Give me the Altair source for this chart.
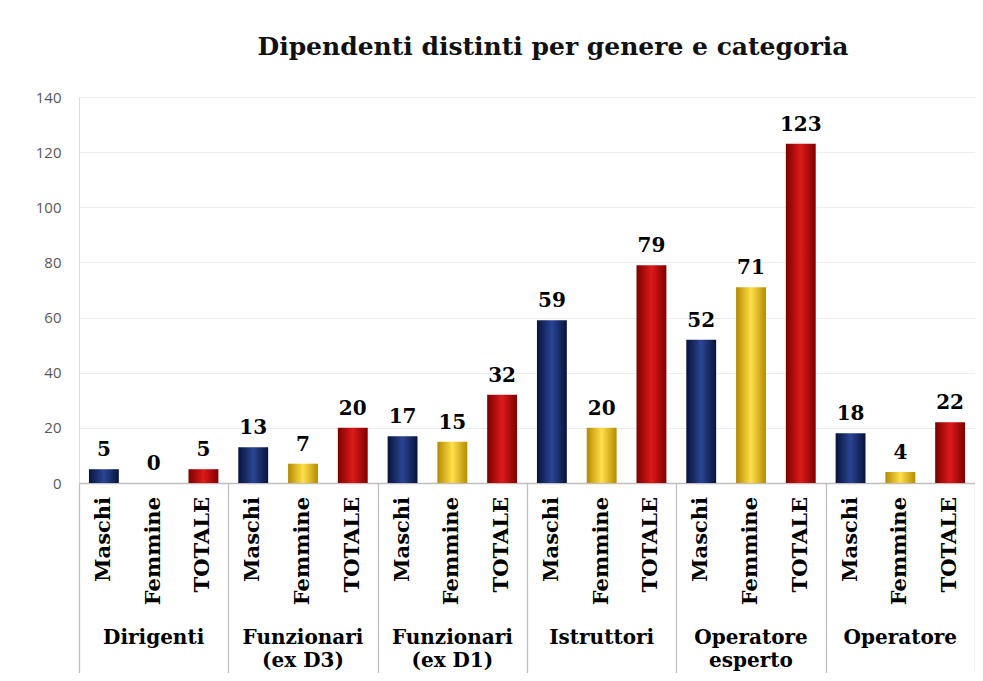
import altair as alt
import pandas as pd

categories = ["Dirigenti", "Funzionari\n(ex D3)", "Funzionari\n(ex D1)",
              "Istruttori", "Operatore\nesperto", "Operatore"]
genders = ["Maschi", "Femmine", "TOTALE"]
maschi = [5, 13, 17, 59, 52, 18]
femmine = [0, 7, 15, 20, 71, 4]
totale = [5, 20, 32, 79, 123, 22]
y_ticks = [0, 20, 40, 60, 80, 100, 120, 140]

rows = []
for i, c in enumerate(categories):
    for g, vals in zip(genders, [maschi, femmine, totale]):
        rows.append({"cat": c, "gender": g, "value": vals[i]})
df = pd.DataFrame(rows)

W, H = 896, 386
SERIF = "DejaVu Serif"

xenc = alt.X("cat:N", sort=categories,
             scale=alt.Scale(domain=categories, paddingInner=0, paddingOuter=0),
             axis=alt.Axis(title=None, labels=False, tickBand="extent",
                           tickSize=190, tickColor="#bfbfbf", tickWidth=1.3,
                           domainColor="#bfbfbf", domainWidth=1.3, grid=False))
xoff = alt.XOffset("gender:N", sort=genders,
                   scale=alt.Scale(domain=genders, paddingInner=0.4, paddingOuter=0.2))
yenc = alt.Y("value:Q", scale=alt.Scale(domain=[0, 140]),
             axis=alt.Axis(title=None, values=y_ticks, domain=False, ticks=False,
                           labelFont="Open Sans", labelFontSize=15,
                           labelColor="#595959", labelPadding=18,
                           gridColor="#eeeeee", gridWidth=1))

base = alt.Chart(df)

grads = {
    "Maschi": ["#07133a", "#2a4594", "#07133a"],
    "Femmine": ["#b58a00", "#ffe04a", "#b58a00"],
    "TOTALE": ["#7d0000", "#dd1a1a", "#7d0000"],
}

layers = []
for g in genders:
    c0, c1, c2 = grads[g]
    layers.append(
        base.transform_filter(alt.datum.gender == g).mark_bar(
            fill=alt.Gradient(gradient="linear", x1=0, x2=1, y1=0, y2=0,
                              stops=[alt.GradientStop(offset=0, color=c0),
                                     alt.GradientStop(offset=0.5, color=c1),
                                     alt.GradientStop(offset=1, color=c2)])
        ).encode(x=xenc, xOffset=xoff, y=yenc)
    )

values = base.mark_text(font=SERIF, fontWeight="bold", fontSize=20, color="#000000",
                        baseline="bottom", dy=-9).encode(
    x=xenc, xOffset=xoff, y=yenc, text="value:Q")

sublabels = base.mark_text(font=SERIF, fontWeight="bold", fontSize=21, color="#000000",
                           angle=270, align="right", baseline="middle").encode(
    x=xenc, xOffset=xoff, y=alt.value(H + 14), text="gender:N")

catlabels = base.transform_filter(alt.datum.gender == "Femmine").mark_text(
    font=SERIF, fontWeight="bold", fontSize=20, color="#000000",
    baseline="top", lineBreak="\n", lineHeight=23).encode(
    x=xenc, y=alt.value(H + 145), text="cat:N")

chart = alt.layer(*layers, values, sublabels, catlabels).properties(
    width=W, height=H,
    title=alt.TitleParams("Dipendenti distinti per genere e categoria",
                          font=SERIF, fontWeight="bold", fontSize=25,
                          color="#111111", anchor="middle", offset=30, dx=26),
    autosize=alt.AutoSizeParams(type="none"),
    padding={"left": 71, "top": 89, "right": 0, "bottom": 190},
).configure_view(stroke=None).configure(background="#ffffff")

chart.save("out.html", embed_options={"renderer": "svg", "actions": False})
